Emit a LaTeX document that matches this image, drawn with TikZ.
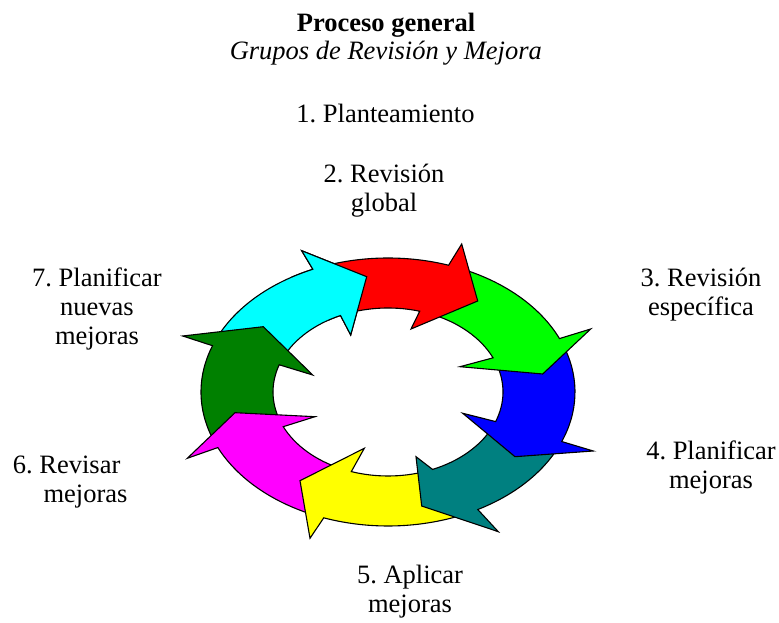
\documentclass[tikz,border=0pt]{standalone}
\usepackage{fontspec}
\setmainfont{Liberation Serif}
\newfontfamily\labelserif{Liberation Serif}
\frenchspacing
\definecolor{arRed}{HTML}{FF0000}
\definecolor{arGreen}{HTML}{00FF00}
\definecolor{arBlue}{HTML}{0000FF}
\definecolor{arTeal}{HTML}{008080}
\definecolor{arYellow}{HTML}{FFFF00}
\definecolor{arMagenta}{HTML}{FF00FF}
\definecolor{arDkGreen}{HTML}{008000}
\definecolor{arCyan}{HTML}{00FFFF}
% One curved arrow of the ring:
% #1 tail angle (outer), #2 head base angle (outer), #3 outer barb, #4 tip,
% #5 inner barb, #6 head base angle (inner), #7 tail angle (inner)
\newcommand{\ringarrowpath}[7]{%
  ({388+187*cos(#1)},{231+134*sin(#1)})
  arc[start angle=#1, end angle=#2, x radius=187pt, y radius=134pt]
  -- #3 -- #4 -- #5 --
  ({388+115*cos(#6)},{231+84*sin(#6)})
  arc[start angle=#6, end angle=#7, x radius=115pt, y radius=84pt]
  -- cycle}
\tikzset{
  ringarrow/.style={draw=black, line width=1.1pt, line join=miter},
  lbl/.style={inner sep=0pt, anchor=base, font=\labelserif\frenchspacing\fontsize{26.5}{29}\selectfont},
}
\begin{document}
\begin{tikzpicture}[x=1pt, y=1pt]
\useasboundingbox (0,0) rectangle (779,623);
\fill[white] (0,0) rectangle (779,623);

% ring of arrows, drawn so that each head lies over the next tail
\filldraw[ringarrow, fill=arCyan] \ringarrowpath{154.8}{113.7}{(301.7,372.3)}{(366.7,346.3)}{(350.7,288)}{114.4}{156.1};
\filldraw[ringarrow, fill=arDkGreen] \ringarrowpath{-158}{-200.2}{(182.7,287)}{(263.3,296.3)}{(312.7,248)}{-198.9}{-160.6};
\filldraw[ringarrow, fill=arMagenta] \ringarrowpath{-115.1}{-155.5}{(187.3,164.7)}{(235,210.3)}{(315,206.3)}{-155.6}{-113.6};
\filldraw[ringarrow, fill=arYellow] \ringarrowpath{-65}{-110.1}{(310,84.7)}{(300,142.3)}{(364.3,174.7)}{-108.6}{-71};
\filldraw[ringarrow, fill=arTeal] \ringarrowpath{-25}{-61.3}{(498.3,91.3)}{(421.7,117)}{(416,166.3)}{-67.2}{-25.6};
\filldraw[ringarrow, fill=arBlue] \ringarrowpath{18.5}{-21.7}{(593.3,172)}{(515,166.3)}{(462.7,209.7)}{-20.6}{19};
\filldraw[ringarrow, fill=arGreen] \ringarrowpath{66.1}{23.5}{(590.7,294)}{(542.7,249)}{(460,256.3)}{24.0}{69};
\filldraw[ringarrow, fill=arRed] \ringarrowpath{108.7}{71.1}{(461.7,379)}{(477.7,322)}{(411,294)}{74.0}{109.4};
% cyan head on top of the red tail
\begin{scope}
  \clip (388,231) -- ({388+374*cos(121)},{231+268*sin(121)})
        -- ({388+374*cos(106)},{231+268*sin(106)})
        -- ({388+374*cos(91)},{231+268*sin(91)}) -- cycle;
  \filldraw[ringarrow, fill=arCyan] \ringarrowpath{154.8}{113.7}{(301.7,372.3)}{(366.7,346.3)}{(350.7,288)}{114.4}{156.1};
\end{scope}

% titles
\node[lbl, font=\labelserif\fontsize{26.5}{29}\selectfont\bfseries] (title) at (386,591.3) {Proceso general};
\node[lbl, font=\labelserif\fontsize{26.5}{29}\selectfont\itshape] (subtitle) at (385.8,563) {Grupos de Revisión y Mejora};

% step labels
\node[lbl] (s1) at (385.5,500.3) {1. Planteamiento};
\node[lbl] (s2) at (384,440.3) {\begin{tabular}[t]{@{}c@{}}2. Revisión\\ global\end{tabular}};
\node[lbl] (s3) at (701,336.3) {\begin{tabular}[t]{@{}c@{}}3. Revisión\\ específica\end{tabular}};
\node[lbl] (s4) at (711,163) {\begin{tabular}[t]{@{}c@{}}4. Planificar\\ mejoras\end{tabular}};
\node[lbl] (s5) at (410,39.7) {\begin{tabular}[t]{@{}c@{}}5. Aplicar\\ mejoras\end{tabular}};
\node[lbl, anchor=base west] (s6) at (12.7,149.7) {\begin{tabular}[t]{@{}l@{}}6. Revisar\\ \hspace*{30.6pt}mejoras\end{tabular}};
\node[lbl] (s7) at (97,336.3) {\begin{tabular}[t]{@{}c@{}}7. Planificar\\ nuevas\\ mejoras\end{tabular}};
\end{tikzpicture}
\end{document}
